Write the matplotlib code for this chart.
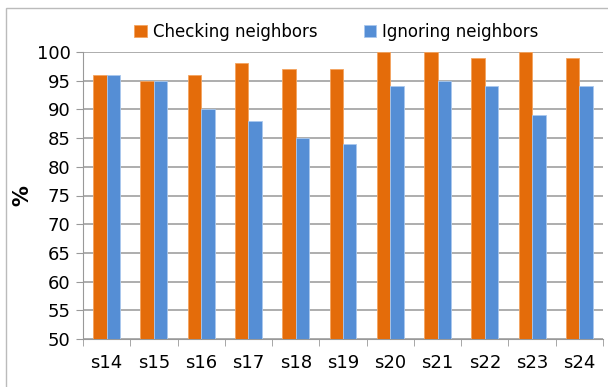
import matplotlib.pyplot as plt
import numpy as np
from matplotlib.patches import Rectangle

categories = ['s14', 's15', 's16', 's17', 's18', 's19', 's20', 's21', 's22', 's23', 's24']
checking = [96, 95, 96, 98, 97, 97, 100, 100, 99, 100, 99]
ignoring = [96, 95, 90, 88, 85, 84, 94, 95, 94, 89, 94]
yticks = list(range(50, 101, 5))

W, H = 608, 387
fig = plt.figure(figsize=(W / 100, H / 100), dpi=100)
ax = fig.add_axes([83 / W, 1 - 339 / H, (603 - 83) / W, (339 - 52) / H])

x = np.arange(len(categories))
bw = 0.285
ax.bar(x - bw / 2, checking, bw, color='#E46C0A', edgecolor='#F4A460', linewidth=0.6,
       label='Checking neighbors', zorder=3)
ax.bar(x + bw / 2, ignoring, bw, color='#558ED5', edgecolor='#A9C8EE', linewidth=0.6,
       label='Ignoring neighbors', zorder=3)

ax.set_ylim(50, 100)
ax.set_xlim(-0.5, len(categories) - 0.5)
ax.set_yticks(yticks)
ax.set_xticks(x)
ax.set_xticklabels(categories)
ax.set_xticks(np.arange(-0.5, len(categories), 1), minor=True)
ax.tick_params(axis='x', which='major', length=0, pad=11, labelsize=13)
ax.tick_params(axis='x', which='minor', length=5, color='#999999')
ax.tick_params(axis='y', length=5, color='#999999', labelsize=13, pad=4)
ax.grid(axis='y', color='#A0A0A0', linewidth=1.2, zorder=0)
for s in ['top', 'right']:
    ax.spines[s].set_visible(False)
for s in ['left', 'bottom']:
    ax.spines[s].set_color('#999999')
ax.set_ylabel('%', fontsize=15, fontweight='bold')
ax.yaxis.set_label_coords(-0.098, 0.5)

ax.legend(loc='center', bbox_to_anchor=(0.4875, 1 + 20 / 287), ncol=2, frameon=False,
          fontsize=12, handlelength=0.75, handleheight=0.75, handletextpad=0.35,
          columnspacing=2.8, borderaxespad=0)

fig.patches.append(Rectangle((6 / W, -0.1), 1.2, 1 - 8 / H + 0.1, transform=fig.transFigure,
                             fill=False, edgecolor='#BBBBBB', linewidth=1))

fig.savefig('out.png', dpi=100)
